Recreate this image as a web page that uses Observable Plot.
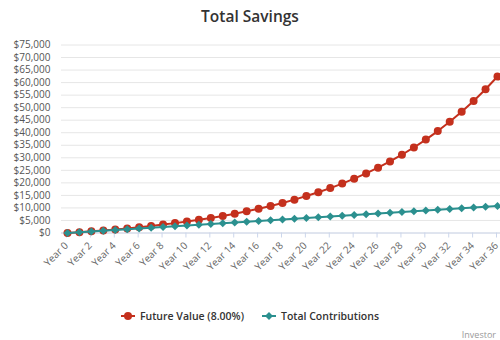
<!DOCTYPE html>
<html>
<head>
<meta charset="utf-8">
<script src="https://cdn.jsdelivr.net/npm/d3@7"></script>
<script src="https://cdn.jsdelivr.net/npm/@observablehq/plot@0.6"></script>
<style>
  html, body { margin: 0; padding: 0; background: #fff; }
  body { width: 500px; height: 340px; overflow: hidden; position: relative; font-family: "Open Sans", sans-serif; }
  #title { position: absolute; top: 0; left: 0; width: 500px; height: 30px; text-align: center;
           font-size: 15.5px; font-weight: 600; color: #333; line-height: 32px; }
  #chart { position: absolute; top: 30px; left: 0; }
  #legend { position: absolute; top: 306px; left: 0; width: 500px; height: 20px; display: flex;
            justify-content: center; align-items: center; gap: 18px; font-size: 10.5px; font-weight: 600; color: #333; }
  #legend .item { display: flex; align-items: center; gap: 5px; }
  #credit { position: absolute; right: 4px; top: 328px; font-size: 9px; color: #999; white-space: nowrap; }
</style>
</head>
<body>
<div id="title">Total Savings</div>
<div id="chart"></div>
<div id="legend"></div>
<div id="credit">Investor</div>
<script>
const categories = ["Year 0","Year 1","Year 2","Year 3","Year 4","Year 5","Year 6","Year 7","Year 8","Year 9",
  "Year 10","Year 11","Year 12","Year 13","Year 14","Year 15","Year 16","Year 17","Year 18","Year 19",
  "Year 20","Year 21","Year 22","Year 23","Year 24","Year 25","Year 26","Year 27","Year 28","Year 29",
  "Year 30","Year 31","Year 32","Year 33","Year 34","Year 35","Year 36"];
const futureValue = [0, 310, 650, 1010, 1410, 1840, 2300, 2800, 3350, 3940,
  4570, 5270, 6010, 6820, 7700, 8650, 9680, 10800, 12000, 13310,
  14730, 16260, 17920, 19720, 21670, 23780, 26060, 28540, 31220, 34120,
  37260, 40660, 44350, 48340, 52670, 57350, 62420];
const contributions = [0, 300, 600, 900, 1200, 1500, 1800, 2100, 2400, 2700,
  3000, 3300, 3600, 3900, 4200, 4500, 4800, 5100, 5400, 5700,
  6000, 6300, 6600, 6900, 7200, 7500, 7800, 8100, 8400, 8700,
  9000, 9300, 9600, 9900, 10200, 10500, 10800];
const yTicks = [0, 5000, 10000, 15000, 20000, 25000, 30000, 35000, 40000, 45000, 50000, 55000, 60000, 65000, 70000, 75000];
const seriesNames = ["Future Value (8.00%)", "Total Contributions"];
const colors = ["#c4301d", "#2b908f"];

const fv = categories.map((c, i) => ({cat: c, value: futureValue[i]}));
const tc = categories.map((c, i) => ({cat: c, value: contributions[i]}));
const shownTicks = categories.filter((d, i) => i % 2 === 0);

const chart = Plot.plot({
  width: 500,
  height: 270,
  marginLeft: 61,
  marginRight: 0,
  marginTop: 14.5,
  marginBottom: 67.5,
  style: {fontFamily: "Open Sans, sans-serif", background: "#fff", overflow: "visible"},
  x: {type: "point", domain: categories, range: [67, 497], padding: 0, label: null},
  y: {domain: [0, 75000], label: null},
  marks: [
    Plot.gridY(yTicks, {stroke: "#e6e6e6", strokeOpacity: 1}),
    Plot.ruleY([0], {stroke: "#ccd6eb"}),
    Plot.axisY(yTicks, {tickSize: 0, tickPadding: 11, fontSize: 10, fill: "#555", label: null,
      tickFormat: d => "$" + d3.format(",")(d)}),
    Plot.axisX(shownTicks, {tickSize: 5, tickPadding: 6, tickRotate: -45, stroke: "#ccd6eb",
      fontSize: 10, fill: "#666", strokeOpacity: 1, label: null, dx: -1}),
    Plot.line(fv, {x: "cat", y: "value", stroke: colors[0], strokeWidth: 2}),
    Plot.dot(fv, {x: "cat", y: "value", fill: colors[0], r: 4}),
    Plot.line(tc, {x: "cat", y: "value", stroke: colors[1], strokeWidth: 2}),
    Plot.dot(tc, {x: "cat", y: "value", fill: colors[1], symbol: "square", rotate: 45, r: 3.2})
  ]
});
document.getElementById("chart").appendChild(chart);

const legend = document.getElementById("legend");
seriesNames.forEach((name, i) => {
  const item = document.createElement("div");
  item.className = "item";
  const marker = i === 0
    ? `<circle cx="7" cy="5" r="4" fill="${colors[i]}"/>`
    : `<rect x="4.2" y="2.2" width="5.6" height="5.6" fill="${colors[i]}" transform="rotate(45 7 5)"/>`;
  item.innerHTML = `<svg width="14" height="10"><line x1="0" x2="14" y1="5" y2="5" stroke="${colors[i]}" stroke-width="2"/>${marker}</svg><span>${name}</span>`;
  legend.appendChild(item);
});
</script>
</body>
</html>
